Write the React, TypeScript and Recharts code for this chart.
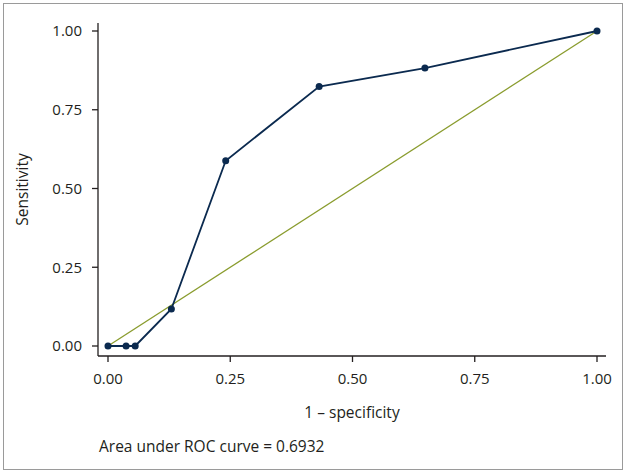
import React from 'react';
import { LineChart, Line, XAxis, YAxis, Label } from 'recharts';

// ROC points (1 - specificity, sensitivity)
const falsePositiveRate = [0, 0.037, 0.0556, 0.1296, 0.2407, 0.4318, 0.6481, 1];
const sensitivity = [0, 0, 0, 0.1176, 0.5882, 0.8235, 0.8824, 1];
const diagonalX = [0, 1];
const diagonalY = [0, 1];
const tickValues = [0, 0.25, 0.5, 0.75, 1];
const aucText = 'Area under ROC curve = 0.6932';

const rocData = falsePositiveRate.map((x, i) => ({ x, y: sensitivity[i] }));
const diagData = diagonalX.map((x, i) => ({ x, y: diagonalY[i] }));

const FONT = '"Open Sans", sans-serif';
const TEXT = '#231f20';
const NAVY = '#0b2a4f';

const fmt = (v: number) => v.toFixed(2);

const App: React.FC = () => {
  return (
    <div style={{ position: 'absolute', left: 0, top: 0, width: 627, height: 474, background: '#fff' }}>
      {/* Frame */}
      <div
        style={{
          position: 'absolute',
          left: 3,
          top: 3,
          width: 618,
          height: 465,
          border: '1.5px solid #9a9a9a',
        }}
      />
      <div style={{ position: 'absolute', left: 0, top: 0 }}>
        <LineChart
          width={627}
          height={474}
          margin={{ top: 23, right: 21, left: 15, bottom: 88 }}
          style={{ fontFamily: FONT }}
        >
          <XAxis
            type="number"
            dataKey="x"
            domain={[0, 1]}
            ticks={tickValues}
            tickFormatter={fmt}
            allowDuplicatedCategory={false}
            padding={{ left: 10, right: 9 }}
            height={30}
            tickSize={6}
            tickMargin={11}
            stroke={TEXT}
            strokeWidth={1.3}
            tick={{ fill: TEXT, fontSize: 15, fontFamily: FONT }}
          >
            <Label
              value="1 – specificity"
              position="bottom"
              offset={21}
              style={{ fill: TEXT, fontSize: 15.5, fontFamily: FONT }}
            />
          </XAxis>
          <YAxis
            type="number"
            dataKey="y"
            domain={[0, 1]}
            ticks={tickValues}
            tickFormatter={fmt}
            padding={{ top: 8, bottom: 10 }}
            width={83}
            tickSize={6}
            tickMargin={10}
            stroke={TEXT}
            strokeWidth={1.3}
            tick={{ fill: TEXT, fontSize: 15, fontFamily: FONT }}
          >
            <Label
              value="Sensitivity"
              angle={-90}
              position="insideLeft"
              offset={7}
              style={{ fill: TEXT, fontSize: 15.5, fontFamily: FONT, textAnchor: 'middle' }}
            />
          </YAxis>
          <Line
            data={diagData}
            dataKey="y"
            stroke="#8a9c2e"
            strokeWidth={1.3}
            dot={false}
            activeDot={false}
            isAnimationActive={false}
          />
          <Line
            data={rocData}
            dataKey="y"
            stroke={NAVY}
            strokeWidth={1.8}
            dot={{ r: 3.5, fill: NAVY, stroke: NAVY, strokeWidth: 0 }}
            activeDot={false}
            isAnimationActive={false}
          />
        </LineChart>
      </div>
      <div
        style={{
          position: 'absolute',
          left: 99,
          top: 435,
          fontFamily: FONT,
          fontSize: 15.5,
          color: TEXT,
          whiteSpace: 'nowrap',
        }}
      >
        {aucText}
      </div>
    </div>
  );
};

export default App;
